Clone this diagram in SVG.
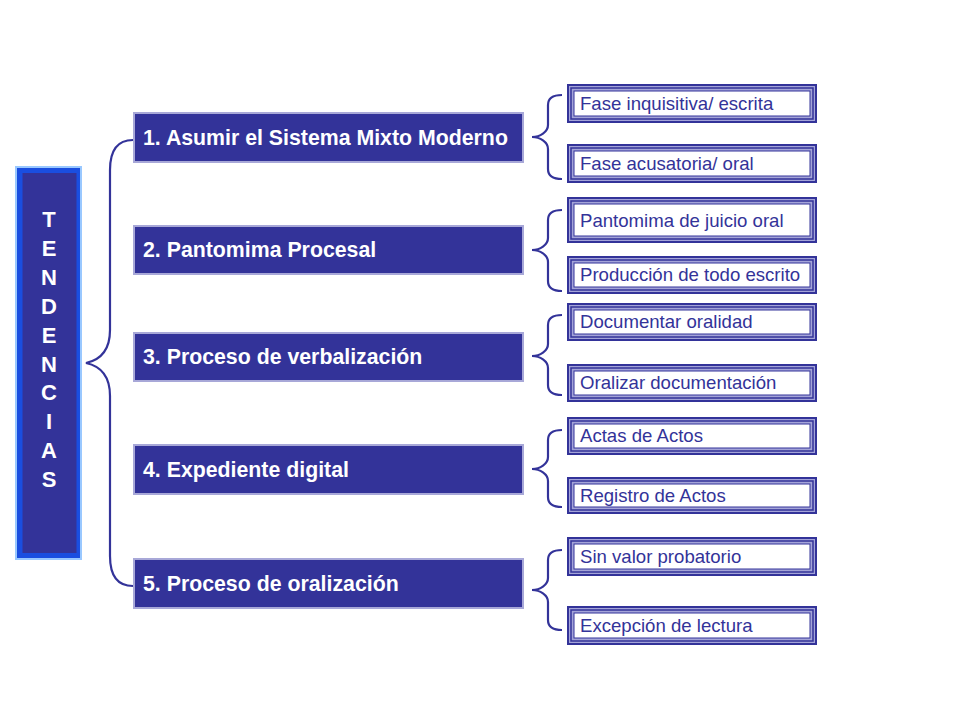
<svg xmlns="http://www.w3.org/2000/svg" width="960" height="720" viewBox="0 0 960 720">
<style>
.main rect{fill:#333399;stroke:#a8a8d8;stroke-width:2}
.main text{font-family:"Liberation Sans",Arial,sans-serif;font-weight:bold;font-size:21.3px;fill:#ffffff}
.sub .o{fill:#a4a4d8;stroke:#333399;stroke-width:2}
.sub .m{fill:#a4a4d8;stroke:#333399;stroke-width:1.5}
.sub .i{fill:#ffffff;stroke:#333399;stroke-width:1}
.sub text{font-family:"Liberation Sans",Arial,sans-serif;font-size:18.6px;fill:#333399}
.br{fill:none;stroke:#333399;stroke-width:2.2}
.tt{font-family:"Liberation Sans",Arial,sans-serif;font-weight:bold;font-size:22px;fill:#ffffff;text-anchor:middle}
</style>
<rect width="960" height="720" fill="#ffffff"/>
<g id="tendencias">
<rect x="15" y="166" width="67" height="394" fill="#99c8ff"/>
<rect x="17" y="168" width="63" height="390" fill="#1a4ee0"/>
<rect x="22.5" y="173" width="54" height="380" fill="#333399"/>
<text class="tt" x="49" y="227">T</text>
<text class="tt" x="49" y="256">E</text>
<text class="tt" x="49" y="285">N</text>
<text class="tt" x="49" y="314">D</text>
<text class="tt" x="49" y="343">E</text>
<text class="tt" x="49" y="372">N</text>
<text class="tt" x="49" y="400">C</text>
<text class="tt" x="49" y="429">I</text>
<text class="tt" x="49" y="458">A</text>
<text class="tt" x="49" y="487">S</text>
</g>
<g id="connectors">
<path class="br" d="M133,140 C118,140 110,150 110,170 L110,330 C110,350 100,360 86,363 C100,366 110,376 110,396 L110,556 C110,576 118,586 133,586"/>
<path class="br" d="M562,95 C553,95 548,98 548,105 L548,125 C548,132 540,137 532,137 C540,137 548,142 548,149 L548,169 C548,176 553,179 562,179"/>
<path class="br" d="M562,210 C553,210 548,213 548,220 L548,238 C548,245 540,250 532,250 C540,250 548,255 548,262 L548,281 C548,288 553,291 562,291"/>
<path class="br" d="M562,315 C553,315 548,318 548,325 L548,344 C548,351 540,356 532,356 C540,356 548,361 548,368 L548,385 C548,392 553,395 562,395"/>
<path class="br" d="M562,430 C553,430 548,433 548,440 L548,457 C548,464 540,469 532,469 C540,469 548,474 548,481 L548,497 C548,504 553,507 562,507"/>
<path class="br" d="M562,550 C553,550 548,553 548,560 L548,578 C548,585 540,590 532,590 C540,590 548,595 548,602 L548,620 C548,627 553,630 562,630"/>
</g>
<g id="n1" class="main"><rect x="134" y="113" width="389" height="49"/><text x="143" y="145">1. Asumir el Sistema Mixto Moderno</text></g>
<g id="n2" class="main"><rect x="134" y="226" width="389" height="48"/><text x="143" y="257">2. Pantomima Procesal</text></g>
<g id="n3" class="main"><rect x="134" y="333" width="389" height="48"/><text x="143" y="364">3. Proceso de verbalización</text></g>
<g id="n4" class="main"><rect x="134" y="445" width="389" height="49"/><text x="143" y="477">4. Expediente digital</text></g>
<g id="n5" class="main"><rect x="134" y="559" width="389" height="49"/><text x="143" y="591">5. Proceso de oralización</text></g>
<g id="s1a" class="sub"><rect class="o" x="568" y="85" width="248" height="37"/><rect class="m" x="571" y="88" width="242" height="31"/><rect class="i" x="574" y="91" width="236" height="25"/><text x="580" y="110">Fase inquisitiva/ escrita</text></g>
<g id="s1b" class="sub"><rect class="o" x="568" y="145" width="248" height="37"/><rect class="m" x="571" y="148" width="242" height="31"/><rect class="i" x="574" y="151" width="236" height="25"/><text x="580" y="170">Fase acusatoria/ oral</text></g>
<g id="s2a" class="sub"><rect class="o" x="568" y="198" width="248" height="44"/><rect class="m" x="571" y="201" width="242" height="38"/><rect class="i" x="574" y="204" width="236" height="32"/><text x="580" y="227">Pantomima de juicio oral</text></g>
<g id="s2b" class="sub"><rect class="o" x="568" y="257" width="248" height="36"/><rect class="m" x="571" y="260" width="242" height="30"/><rect class="i" x="574" y="263" width="236" height="24"/><text x="580" y="281">Producción de todo escrito</text></g>
<g id="s3a" class="sub"><rect class="o" x="568" y="304" width="248" height="36"/><rect class="m" x="571" y="307" width="242" height="30"/><rect class="i" x="574" y="310" width="236" height="24"/><text x="580" y="328">Documentar oralidad</text></g>
<g id="s3b" class="sub"><rect class="o" x="568" y="365" width="248" height="36"/><rect class="m" x="571" y="368" width="242" height="30"/><rect class="i" x="574" y="371" width="236" height="24"/><text x="580" y="389">Oralizar documentación</text></g>
<g id="s4a" class="sub"><rect class="o" x="568" y="418" width="248" height="36"/><rect class="m" x="571" y="421" width="242" height="30"/><rect class="i" x="574" y="424" width="236" height="24"/><text x="580" y="442">Actas de Actos</text></g>
<g id="s4b" class="sub"><rect class="o" x="568" y="478" width="248" height="35"/><rect class="m" x="571" y="481" width="242" height="29"/><rect class="i" x="574" y="484" width="236" height="23"/><text x="580" y="502">Registro de Actos</text></g>
<g id="s5a" class="sub"><rect class="o" x="568" y="538" width="248" height="37"/><rect class="m" x="571" y="541" width="242" height="31"/><rect class="i" x="574" y="544" width="236" height="25"/><text x="580" y="563">Sin valor probatorio</text></g>
<g id="s5b" class="sub"><rect class="o" x="568" y="607" width="248" height="37"/><rect class="m" x="571" y="610" width="242" height="31"/><rect class="i" x="574" y="613" width="236" height="25"/><text x="580" y="632">Excepción de lectura</text></g>
</svg>
